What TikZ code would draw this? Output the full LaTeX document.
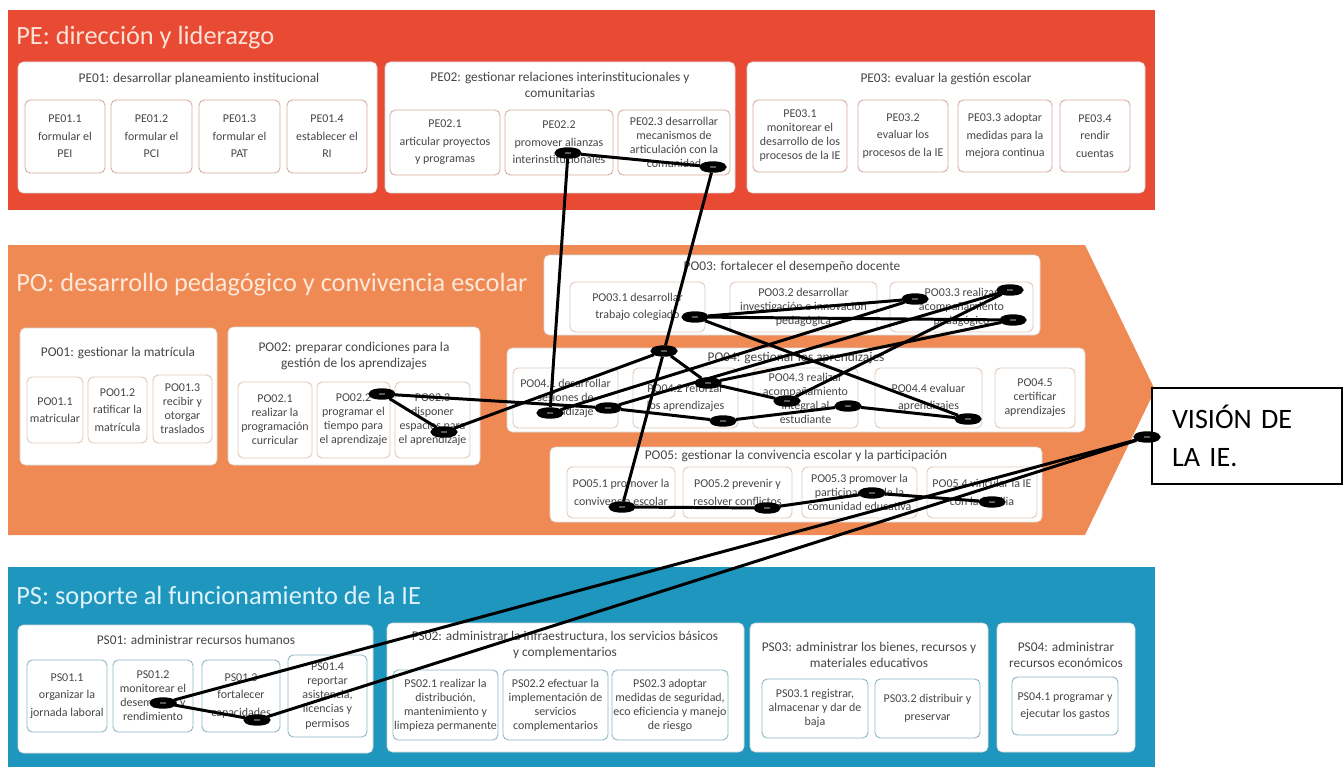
\documentclass[tikz,border=0pt]{standalone}
\usepackage{fontspec}
\setmainfont{Carlito}
\usetikzlibrary{shapes.geometric}
\definecolor{pecol}{RGB}{232,74,52}
\definecolor{pocol}{RGB}{240,138,84}
\definecolor{pscol}{RGB}{30,150,190}
\definecolor{petxt}{RGB}{252,226,214}
\definecolor{potxt}{RGB}{253,232,218}
\definecolor{pstxt}{RGB}{222,242,250}
\definecolor{peline}{RGB}{214,170,160}
\definecolor{poline}{RGB}{222,200,186}
\definecolor{psline}{RGB}{140,182,194}
\definecolor{txt}{RGB}{70,70,70}
\newcommand\bx[7]{\node[#1, minimum width={(#4-#2)*0.02cm}, minimum height={(#5-#3)*0.02cm}] (#6) at ({(#2+#4)/2},{(#3+#5)/2}) {#7};}
\tikzset{
  grp/.style={rounded corners=3pt, fill=white, draw=white!85!black, line width=0.3pt, inner sep=0pt},
  sub/.style={rounded corners=3pt, fill=white, line width=0.5pt, inner sep=0pt, align=center, text=txt, font=\fontsize{6.8}{8}\selectfont},
  wide/.style={font=\fontsize{6.8}{10}\selectfont},
  pesub/.style={sub, draw=peline},
  posub/.style={sub, draw=poline},
  pssub/.style={sub, draw=psline},
  gtitle/.style={align=center, text=txt, font=\fontsize{7.6}{8.8}\selectfont, inner sep=0pt},
  btitle/.style={anchor=west, inner sep=0pt, font=\fontsize{15}{17}\selectfont},
  mk/.style={ellipse, draw=black, line width=3pt, fill=white, minimum width=12pt, minimum height=3.5pt, inner sep=0pt},
  cn/.style={draw=black, line width=1.7pt},
}
\begin{document}
\begin{tikzpicture}[x=0.02cm,y=-0.02cm]
\useasboundingbox (0,0) rectangle (1343,767);
% ---------- PE band
\fill[pecol] (8,10) rectangle (1155,210);
\node[btitle, text=petxt] (petitle) at (16,38) {PE: dirección y liderazgo};
\bx{grp}{18}{62}{377}{193}{pe1}{}
\bx{grp}{385}{62}{735}{193}{pe2}{}
\bx{grp}{747}{62}{1145}{193}{pe3}{}
\node[gtitle] (pe1t) at (199,79) {PE01: desarrollar planeamiento institucional};
\node[gtitle] (pe2t) at (560,85) {PE02: gestionar relaciones interinstitucionales y\\comunitarias};
\node[gtitle] (pe3t) at (946,79) {PE03: evaluar la gestión escolar};
\bx{pesub,wide}{25}{100}{105}{173}{pe11}{PE01.1\\formular el\\PEI}
\bx{pesub,wide}{111}{100}{192}{173}{pe12}{PE01.2\\formular el\\PCI}
\bx{pesub,wide}{199}{100}{280}{173}{pe13}{PE01.3\\formular el\\PAT}
\bx{pesub,wide}{287}{100}{367}{173}{pe14}{PE01.4\\establecer el\\RI}
\bx{pesub,wide}{390}{110}{500}{175}{pe21}{PE02.1\\articular proyectos\\y programas}
\bx{pesub,wide}{505}{110}{613}{175}{pe22}{PE02.2\\promover alianzas\\interinstitucionales}
\bx{pesub}{618}{110}{730}{175}{pe23}{PE02.3 desarrollar\\mecanismos de\\articulación con la\\comunidad}
\bx{pesub}{753}{100}{847}{172}{pe31}{PE03.1\\monitorear el\\desarrollo de los\\procesos de la IE}
\bx{pesub,wide}{858}{100}{948}{172}{pe32}{PE03.2\\evaluar los\\procesos de la IE}
\bx{pesub,wide}{958}{100}{1052}{172}{pe33}{PE03.3 adoptar\\medidas para la\\mejora continua}
\bx{pesub,wide}{1060}{100}{1130}{172}{pe34}{PE03.4\\rendir\\cuentas}
% ---------- PO band
\fill[pocol] (8,245) -- (1085,245) -- (1155,390) -- (1085,535) -- (8,535) -- cycle;
\node[btitle, text=potxt] (potitle) at (16,285) {PO: desarrollo pedagógico y convivencia escolar};
\bx{grp}{20}{328}{217}{465}{po1}{}
\bx{grp}{228}{327}{480}{465}{po2}{}
\bx{grp}{544}{255}{1040}{335}{po3}{}
\bx{grp}{507}{348}{1085}{432}{po4}{}
\bx{grp}{550}{447}{1042}{522}{po5}{}
\node[gtitle] (po1t) at (118,353) {PO01: gestionar la matrícula};
\node[gtitle] (po2t) at (354,356) {PO02: preparar condiciones para la\\gestión de los aprendizajes};
\node[gtitle] (po3t) at (792,267) {PO03: fortalecer el desempeño docente};
\node[gtitle] (po4t) at (796,358) {PO04: gestionar los aprendizajes};
\node[gtitle] (po5t) at (796,456) {PO05: gestionar la convivencia escolar y la participación};
\bx{posub,wide}{27}{377}{83}{443}{po11}{PO01.1\\matricular}
\bx{posub,wide}{88}{377}{147}{443}{po12}{PO01.2\\ratificar la\\matrícula}
\bx{posub}{153}{375}{212}{443}{po13}{PO01.3\\recibir y\\otorgar\\traslados}
\bx{posub}{238}{382}{312}{458}{po21}{PO02.1\\realizar la\\programación\\curricular}
\bx{posub}{317}{382}{390}{458}{po22}{PO02.2\\programar el\\tiempo para\\el aprendizaje}
\bx{posub}{395}{382}{470}{458}{po23}{PO02.3\\disponer\\espacios para\\el aprendizaje}
\bx{posub,wide}{570}{282}{705}{332}{po31}{PO03.1 desarrollar\\trabajo colegiado}
\bx{posub}{730}{282}{877}{332}{po32}{PO03.2 desarrollar\\investigación e innovación\\pedagógica}
\bx{posub}{890}{282}{1033}{332}{po33}{PO03.3 realizar\\acompañamiento\\pedagógico}
\bx{posub}{513}{368}{618}{428}{po41}{PO04.1 desarrollar\\sesiones de\\aprendizaje}
\bx{posub,wide}{633}{368}{738}{428}{po42}{PO04.2 reforzar\\los aprendizajes}
\bx{posub}{753}{368}{858}{428}{po43}{PO04.3 realizar\\acompañamiento\\integral al\\estudiante}
\bx{posub,wide}{875}{368}{982}{428}{po44}{PO04.4 evaluar\\aprendizajes}
\bx{posub}{995}{368}{1075}{428}{po45}{PO04.5\\certificar\\aprendizajes}
\bx{posub,wide}{567}{467}{675}{518}{po51}{PO05.1 promover la\\convivencia escolar}
\bx{posub,wide}{683}{467}{792}{518}{po52}{PO05.2 prevenir y\\resolver conflictos}
\bx{posub}{802}{467}{917}{518}{po53}{PO05.3 promover la\\participación de la\\comunidad educativa}
\bx{posub,wide}{927}{467}{1037}{518}{po54}{PO05.4 vincular la IE\\con la familia}
% ---------- PS band
\fill[pscol] (8,567) rectangle (1155,767);
\node[btitle, text=pstxt] (pstitle) at (16,597) {PS: soporte al funcionamiento de la IE};
\bx{grp}{18}{625}{373}{753}{ps1}{}
\bx{grp}{387}{623}{744}{752}{ps2}{}
\bx{grp}{750}{623}{988}{752}{ps3}{}
\bx{grp}{997}{623}{1135}{752}{ps4}{}
\node[gtitle] (ps1t) at (196,640) {PS01: administrar recursos humanos};
\node[gtitle] (ps2t) at (565,645) {PS02: administrar la infraestructura, los servicios básicos\\y complementarios};
\node[gtitle] (ps3t) at (869,655) {PS03: administrar los bienes, recursos y\\materiales educativos};
\node[gtitle] (ps4t) at (1066,655) {PS04: administrar\\recursos económicos};
\bx{pssub,wide}{27}{660}{107}{732}{ps11}{PS01.1\\organizar la\\jornada laboral}
\bx{pssub}{113}{660}{193}{732}{ps12}{PS01.2\\monitorear el\\desempeño y\\rendimiento}
\bx{pssub,wide}{202}{660}{280}{732}{ps13}{PS01.3\\fortalecer\\capacidades}
\bx{pssub}{288}{655}{367}{737}{ps14}{PS01.4\\reportar\\asistencia,\\licencias y\\permisos}
\bx{pssub}{393}{670}{498}{740}{ps21}{PS02.1 realizar la\\distribución,\\mantenimiento y\\limpieza permanente}
\bx{pssub}{503}{670}{608}{740}{ps22}{PS02.2 efectuar la\\implementación de\\servicios\\complementarios}
\bx{pssub}{612}{670}{728}{740}{ps23}{PS02.3 adoptar\\medidas de seguridad,\\eco eficiencia y manejo\\de riesgo}
\bx{pssub}{762}{679}{868}{738}{ps31}{PS03.1 registrar,\\almacenar y dar de\\baja}
\bx{pssub,wide}{875}{679}{980}{738}{ps32}{PS03.2 distribuir y\\preservar}
\bx{pssub,wide}{1012}{677}{1118}{735}{ps41}{PS04.1 programar y\\ejecutar los gastos}
% ---------- vision box
\node[draw=black, line width=0.8pt, fill=white, minimum width={190*0.02cm}, minimum height={96*0.02cm}, text width={150*0.02cm}, align=left, inner sep=0pt, font=\fontsize{16}{21.5}\selectfont] (vision) at (1247,436) {VISIÓN DE\\LA IE.};
% ---------- marks
\node[mk] (e1) at (568,153) {};
\node[mk] (e2) at (713,167) {};
\node[mk] (e3) at (382,394) {};
\node[mk] (e4) at (444,432) {};
\node[mk] (e5) at (695,317) {};
\node[mk] (e6) at (915,299) {};
\node[mk] (e7) at (1010,290) {};
\node[mk] (e8) at (1013,320) {};
\node[mk] (e9) at (664,351) {};
\node[mk] (e10) at (550,413) {};
\node[mk] (e11) at (608,408) {};
\node[mk] (e12) at (708,383) {};
\node[mk] (e13) at (787,401) {};
\node[mk] (e14) at (848,406) {};
\node[mk] (e15) at (723,421) {};
\node[mk] (e16) at (968,419) {};
\node[mk] (e17) at (622,507) {};
\node[mk] (e18) at (767,508) {};
\node[mk] (e19) at (872,493) {};
\node[mk] (e20) at (992,502) {};
\node[mk] (e21) at (1147,437) {};
\node[mk] (e22) at (163,703) {};
\node[mk] (e23) at (257,720) {};
% ---------- connectors
\draw[cn] (e1) -- (e2);
\draw[cn] (e1) -- (e10);
\draw[cn] (e2) -- (e9);
\draw[cn] (e9) -- (e17);
\draw[cn] (e3) -- (e4);
\draw[cn] (e4) -- (e9);
\draw[cn] (e3) -- (e11);
\draw[cn] (e9) -- (e12);
\draw[cn] (e12) -- (e13);
\draw[cn] (e11) -- (e15);
\draw[cn] (e15) -- (e14);
\draw[cn] (e14) -- (e16);
\draw[cn] (e5) -- (e6);
\draw[cn] (e5) -- (e8);
\draw[cn] (e5) -- (e16);
\draw[cn] (e6) -- (e10);
\draw[cn] (e7) -- (e13);
\draw[cn] (e7) -- (e11);
\draw[cn] (e8) -- (e12);
\draw[cn] (e17) -- (e18);
\draw[cn] (e18) -- (e19);
\draw[cn] (e19) -- (e20);
\draw[cn] (e21) -- (e22);
\draw[cn] (e21) -- (e23);
\draw[cn] (e22) -- (e23);
\end{tikzpicture}
\end{document}
